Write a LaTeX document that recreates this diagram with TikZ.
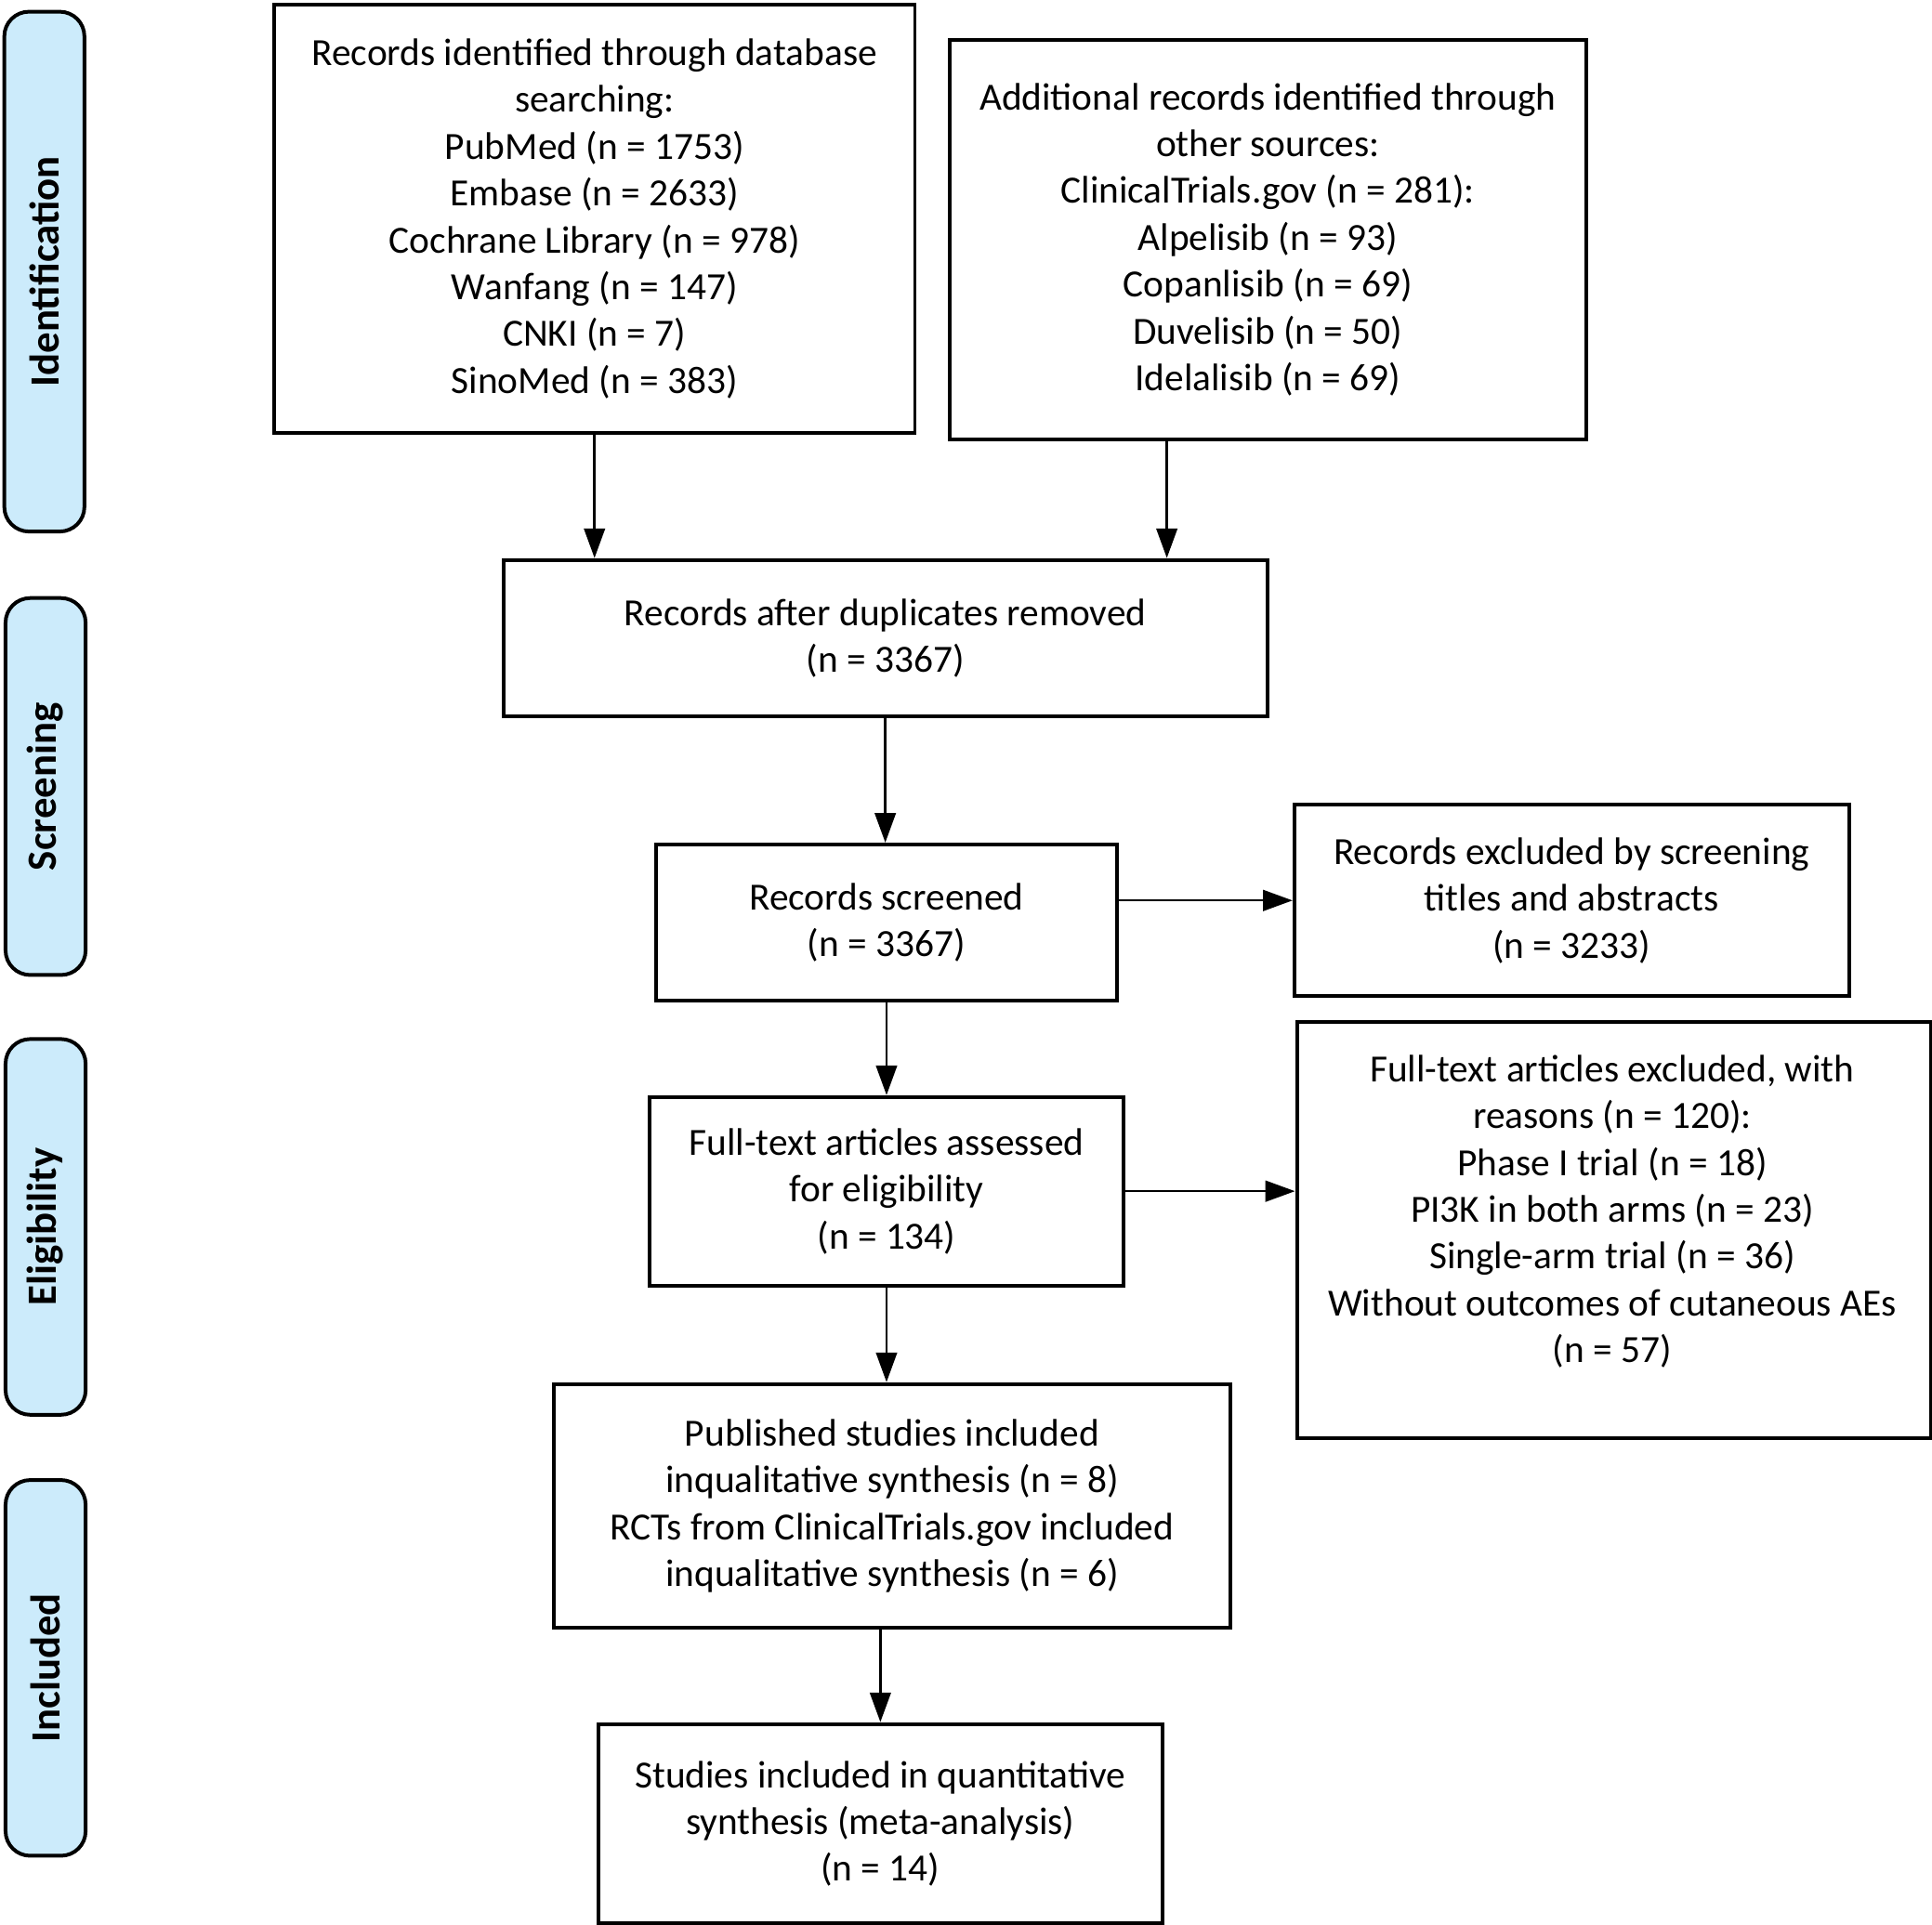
\documentclass[tikz,border=0pt]{standalone}
\usepackage{fontspec}
\setmainfont{Carlito}
\usetikzlibrary{arrows.meta}
\definecolor{sideblue}{HTML}{CCEBFB}
\tikzset{
  box/.style={draw=black, line width=1.5pt, anchor=north west, align=center, inner sep=0pt,
    font=\fontsize{15.6}{19}\selectfont},
  sidebox/.style={draw=black, fill=sideblue, line width=1.5pt, rounded corners=10pt, anchor=north west, inner sep=0pt},
  sidelabel/.style={rotate=90, font=\fontsize{16.9}{20}\selectfont\bfseries},
  bodytext/.style={align=center, inner sep=0pt, font=\fontsize{15.6}{19}\selectfont},
  arr/.style={line width=0.95pt, -{Triangle[length=12pt,width=8.5pt]}}
}
\begin{document}
\begin{tikzpicture}[x=0.5pt,y=-0.5pt]
\useasboundingbox (0,0) rectangle (1568,1562);
% side phase boxes
\node[sidebox, minimum width=32.5pt, minimum height=211pt] (sid) at (2,8) {};
\node[sidelabel] (lid) at (sid.center) {Identification};
\node[sidebox, minimum width=32.5pt, minimum height=153pt] (sscr) at (3,484) {};
\node[sidelabel] (lscr) at (sscr.center) {Screening};
\node[sidebox, minimum width=32.5pt, minimum height=152.5pt] (sel) at (3,842) {};
\node[sidelabel] (lel) at (sel.center) {Eligibility};
\node[sidebox, minimum width=32.5pt, minimum height=152.5pt] (sinc) at (3,1200) {};
\node[sidelabel] (linc) at (sinc.center) {Included};
% main boxes
\node[box, minimum width=260pt, minimum height=174pt] (db) at (221,2)
  {Records identified through database\\ searching:\\ PubMed (n = 1753)\\ Embase (n = 2633)\\ Cochrane Library (n = 978)\\ Wanfang (n = 147)\\ CNKI (n = 7)\\ SinoMed (n = 383)};
\node[box, minimum width=258.5pt, minimum height=162pt] (oth) at (769,31)
  {Additional records identified through\\ other sources:\\ ClinicalTrials.gov (n = 281):\\ Alpelisib (n = 93)\\ Copanlisib (n = 69)\\ Duvelisib (n = 50)\\ Idelalisib (n = 69)};
\node[box, minimum width=310pt, minimum height=63.5pt] (dup) at (407,453)
  {Records after duplicates removed\\ (n = 3367)};
\node[box, minimum width=187pt, minimum height=63.5pt] (scr) at (531,684)
  {Records screened\\ (n = 3367)};
\node[box, minimum width=225pt, minimum height=77.5pt] (exa) at (1049,652)
  {Records excluded by screening\\ titles and abstracts\\ (n = 3233)};
\node[box, minimum width=192pt, minimum height=76.5pt] (ft) at (526,889)
  {Full-text articles assessed\\ for eligibility\\ (n = 134)};
\node[box, minimum width=257.5pt, minimum height=169pt] (exb) at (1051,828) {};
\node[bodytext] (exbt) at (1308.5,983.5)
  {Full-text articles excluded, with\\ reasons (n = 120):\\ Phase I trial (n = 18)\\ PI3K in both arms (n = 23)\\ Single-arm trial (n = 36)\\ Without outcomes of cutaneous AEs\\ (n = 57)};
\node[box, minimum width=274.5pt, minimum height=99pt] (pub) at (448,1122)
  {Published studies included\\ inqualitative synthesis (n = 8)\\ RCTs from ClinicalTrials.gov included\\ inqualitative synthesis (n = 6)};
\node[box, minimum width=229pt, minimum height=81pt] (qnt) at (484,1398)
  {Studies included in quantitative\\ synthesis (meta-analysis)\\ (n = 14)};
% connectors
\coordinate (cx) at (947,0);
\draw[arr] (db.south) -- (db.south |- dup.north);
\draw[arr] (oth.south -| cx) -- (dup.north -| cx);
\draw[arr] (dup.south) -- (dup.south |- scr.north);
\draw[arr] (scr.east |- exa.west) -- (exa.west);
\draw[arr] (scr.south) -- (scr.south |- ft.north);
\draw[arr] (ft.east) -- (ft.east -| exb.west);
\draw[arr] (ft.south) -- (ft.south |- pub.north);
\draw[arr] (qnt.north |- pub.south) -- (qnt.north);
\end{tikzpicture}
\end{document}
